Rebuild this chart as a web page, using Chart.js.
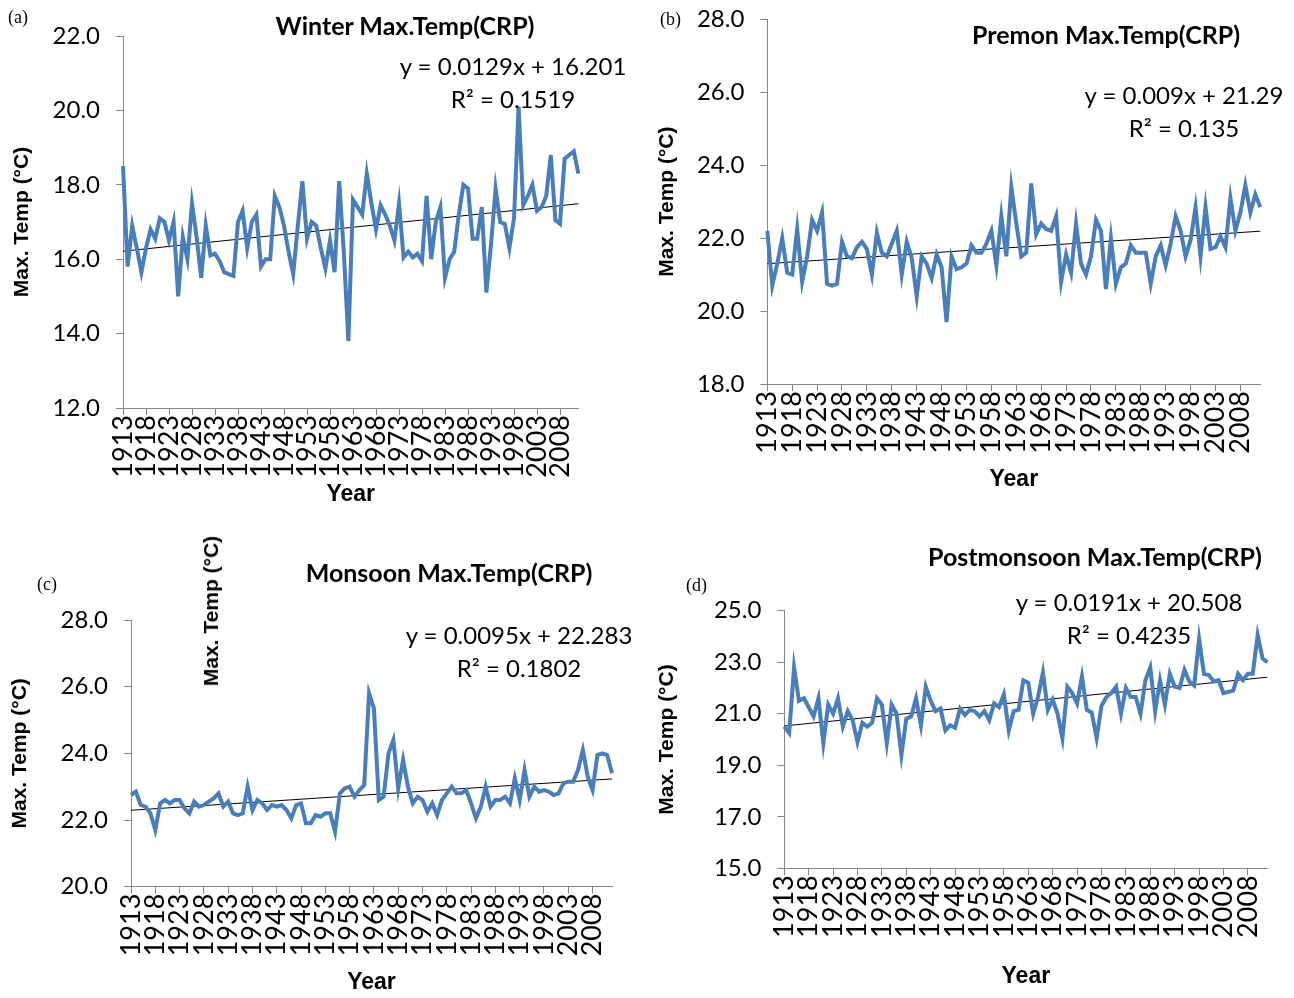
<!DOCTYPE html>
<html>
<head>
<meta charset="utf-8">
<title>Max. Temp (CRP)</title>
<script src="https://cdn.jsdelivr.net/npm/chart.js@4.4.1/dist/chart.umd.min.js"></script>
<style>
  html, body { margin: 0; padding: 0; background: #fff; }
  #page { position: relative; width: 1294px; height: 998px; overflow: hidden; font-family: Lato, sans-serif; }
  .panel { position: absolute; }
  .txt { position: absolute; white-space: nowrap; color: #000; transform: translate(-50%, -50%); }
  .letter { font-family: "Liberation Serif", serif; font-size: 18px; transform: none; }
  .title { font-weight: bold; font-size: 25px; }
  .eq { font-size: 24px; text-align: center; line-height: 33px; }
  .ytitle { font-family: "Liberation Sans", Arial, sans-serif; font-weight: bold; font-size: 21px; transform: translate(-50%, -50%) rotate(-90deg); }
</style>
</head>
<body>
<div id="page">
  <canvas class="panel" id="winter" width="645" height="515" style="left:0;top:0"></canvas>
  <canvas class="panel" id="premon" width="647" height="500" style="left:647px;top:0"></canvas>
  <canvas class="panel" id="monsoon" width="645" height="483" style="left:0;top:515px"></canvas>
  <canvas class="panel" id="postmon" width="647" height="483" style="left:647px;top:515px"></canvas>

  <div class="txt letter" style="left:8px;top:7px">(a)</div>
  <div class="txt letter" style="left:660px;top:9px">(b)</div>
  <div class="txt letter" style="left:37px;top:574px">(c)</div>
  <div class="txt letter" style="left:686px;top:575px">(d)</div>

  <div class="txt title" style="left:405px;top:25px">Winter Max.Temp(CRP)</div>
  <div class="txt title" style="left:1106px;top:34px">Premon Max.Temp(CRP)</div>
  <div class="txt title" style="left:449px;top:572px">Monsoon Max.Temp(CRP)</div>
  <div class="txt title" style="left:1095px;top:556px">Postmonsoon Max.Temp(CRP)</div>

  <div class="txt eq" style="left:513px;top:82px">y = 0.0129x + 16.201<br>R² = 0.1519</div>
  <div class="txt eq" style="left:1184px;top:111px">y = 0.009x + 21.29<br>R² = 0.135</div>
  <div class="txt eq" style="left:519px;top:651px">y = 0.0095x + 22.283<br>R² = 0.1802</div>
  <div class="txt eq" style="left:1129px;top:618px">y = 0.0191x + 20.508<br>R² = 0.4235</div>

  <div class="txt ytitle" style="left:211px;top:611px">Max. Temp (°C)</div>
</div>

<script>
// years on the category axis, one value per year
const years = Array.from({ length: 100 }, (_, i) => String(1913 + i));

// seasonal max temperature (°C)
const winterMax = [
  18.5, 15.8, 16.9, 16.3, 15.65, 16.3, 16.8, 16.55, 17.1, 17.0,
  16.5, 17.0, 15.0, 16.6, 16.0, 17.5, 16.6, 15.5, 16.9, 16.1,
  16.15, 15.95, 15.65, 15.6, 15.55, 17.0, 17.3, 16.3, 17.0, 17.2,
  15.8, 16.0, 16.0, 17.7, 17.4, 16.9, 16.2, 15.6, 16.9, 18.1,
  16.55, 17.0, 16.9, 16.3, 15.75, 16.5, 15.65, 18.1, 16.2, 13.8,
  17.6, 17.4, 17.2, 18.3, 17.5, 16.8, 17.45, 17.2, 16.9, 16.5,
  17.5, 16.05, 16.2, 16.05, 16.15, 15.95, 17.7, 16.0, 17.0, 17.4,
  15.5, 16.0, 16.2, 17.2, 18.0, 17.9, 16.55, 16.55, 17.4, 15.1,
  16.4, 17.9, 17.0, 16.95, 16.3, 17.1, 20.1, 17.45, 17.7, 18.0,
  17.3, 17.4, 17.7, 18.8, 17.05, 16.95, 18.7, 18.8, 18.9, 18.3
];
const premonMax = [
  22.2, 20.7, 21.3, 22.0, 21.05, 21.0, 22.25, 20.8, 21.5, 22.5,
  22.2, 22.7, 20.75, 20.7, 20.75, 21.9, 21.5, 21.45, 21.75, 21.9,
  21.7, 21.0, 22.15, 21.6, 21.5, 21.85, 22.2, 21.0, 21.9, 21.45,
  20.4, 21.5, 21.3, 20.9, 21.55, 21.2, 19.7, 21.5, 21.15, 21.2,
  21.3, 21.8, 21.6, 21.6, 21.85, 22.2, 21.25, 22.6, 21.5, 23.4,
  22.4, 21.5, 21.6, 23.5, 22.1, 22.4, 22.25, 22.2, 22.6, 20.8,
  21.55, 21.05, 22.4, 21.3, 21.0, 21.5, 22.5, 22.2, 20.6, 22.0,
  20.75, 21.2, 21.3, 21.8, 21.6, 21.6, 21.6, 20.75, 21.5, 21.8,
  21.25, 21.85, 22.6, 22.2, 21.5, 21.95, 22.85, 21.5, 22.85, 21.7,
  21.75, 22.05, 21.75, 23.1, 22.2, 22.7, 23.45, 22.7, 23.2, 22.85
];
const monsoonMax = [
  22.75, 22.85, 22.45, 22.4, 22.2, 21.7, 22.5, 22.6, 22.5, 22.6,
  22.6, 22.35, 22.2, 22.55, 22.4, 22.45, 22.55, 22.65, 22.8, 22.4,
  22.55, 22.2, 22.15, 22.2, 23.0, 22.3, 22.6, 22.5, 22.3, 22.45,
  22.4, 22.45, 22.3, 22.05, 22.45, 22.5, 21.9, 21.9, 22.15, 22.1,
  22.2, 22.2, 21.65, 22.8, 22.95, 23.0, 22.7, 22.9, 23.05, 25.8,
  25.35, 22.6, 22.7, 24.0, 24.4, 22.95, 23.8, 23.0, 22.5, 22.7,
  22.6, 22.25, 22.5, 22.15, 22.6, 22.8, 23.0, 22.8, 22.8, 22.9,
  22.5, 22.05, 22.4, 23.0, 22.4, 22.6, 22.6, 22.7, 22.5, 23.25,
  22.6, 23.5, 22.7, 23.0, 22.85, 22.9, 22.85, 22.75, 22.8, 23.1,
  23.15, 23.15, 23.5, 24.1, 23.3, 22.9, 23.95, 24.0, 23.95, 23.4
];
const postmonMax = [
  20.5, 20.25, 22.8, 21.5, 21.6, 21.25, 20.9, 21.6, 19.85, 21.35,
  21.0, 21.6, 20.5, 21.1, 20.75, 19.9, 20.65, 20.5, 20.65, 21.6,
  21.35, 19.85, 21.35, 21.0, 19.4, 20.8, 20.9, 21.6, 20.55, 22.05,
  21.5, 21.1, 21.2, 20.35, 20.55, 20.45, 21.2, 20.95, 21.15, 21.1,
  20.9, 21.1, 20.75, 21.4, 21.25, 21.75, 20.35, 21.1, 21.15, 22.3,
  22.2, 21.0, 21.65, 22.6, 21.15, 21.55, 21.0, 20.05, 22.05, 21.8,
  21.4, 22.45, 21.15, 21.05, 20.05, 21.3, 21.65, 21.8, 22.05, 21.0,
  22.0, 21.65, 21.65, 21.0, 22.3, 22.8, 21.1, 22.3, 21.35, 22.55,
  22.05, 22.0, 22.7, 22.25, 22.1, 23.9, 22.55, 22.5, 22.25, 22.3,
  21.8, 21.85, 21.9, 22.55, 22.3, 22.55, 22.55, 24.05, 23.15, 23.0
];

// linear trend printed on each panel: [slope, intercept], x = 1..100
const winterFit = [0.0129, 16.201];
const premonFit = [0.009, 21.29];
const monsoonFit = [0.0095, 22.283];
const postmonFit = [0.0191, 20.508];

// y axis [min, max, step]
const winterRange = [12, 22, 2];
const premonRange = [18, 28, 2];
const monsoonRange = [20, 28, 2];
const postmonRange = [15, 25, 2];

const AXIS = '#868686';
const BLUE = '#4a7ebb';
const BOLD_SANS = '"Liberation Sans", Arial, sans-serif';

function trendLine(fit) {
  const last = years.length - 1;
  return years.map((_, i) => (i === 0 || i === last) ? fit[0] * (i + 1) + fit[1] : null);
}

function makePanel(id, values, fit, range, box) {
  new Chart(document.getElementById(id), {
    type: 'line',
    data: {
      labels: years,
      datasets: [
        { data: values, borderColor: BLUE, borderWidth: 4, pointRadius: 0, tension: 0 },
        { data: trendLine(fit), borderColor: '#000', borderWidth: 1, pointRadius: 0, spanGaps: true }
      ]
    },
    options: {
      responsive: false,
      animation: false,
      layout: { padding: box.pad },
      plugins: { legend: { display: false }, tooltip: { enabled: false } },
      scales: {
        x: {
          offset: false,
          border: { color: AXIS, width: 1 },
          grid: { drawOnChartArea: false, tickLength: 7, color: AXIS },
          ticks: {
            autoSkip: false, minRotation: 90, maxRotation: 90, padding: 0,
            color: '#000', font: { size: 27 },
            callback: (v, i) => (i % 5 === 0 ? years[i] : null)
          },
          title: {
            display: true, text: 'Year', color: '#000', padding: 0,
            font: { family: BOLD_SANS, size: 23, weight: 'bold' }
          },
          afterFit: s => { s.height = box.xh; s.paddingLeft = 0; s.paddingRight = 0; }
        },
        y: {
          min: range[0], max: range[1],
          border: { color: AXIS, width: 1 },
          grid: { drawOnChartArea: false, tickLength: 7, color: AXIS },
          ticks: {
            stepSize: range[2], padding: 16, color: '#000', font: { size: 24 },
            callback: v => v.toFixed(1)
          },
          title: {
            display: true, text: 'Max. Temp (°C)', color: '#000', padding: 0,
            font: { family: BOLD_SANS, size: 21, weight: 'bold' }
          },
          afterFit: s => { s.width = box.yw; s.paddingTop = 0; s.paddingBottom = 0; }
        }
      }
    }
  });
}

Chart.defaults.font.family = 'Lato, sans-serif';

makePanel('winter', winterMax, winterFit, winterRange,
  { pad: { left: 9.5, top: 36, right: 66.6, bottom: 6.2 }, yw: 113.5, xh: 100.8 });
makePanel('premon', premonMax, premonFit, premonRange,
  { pad: { left: 7.5, top: 19.3, right: 33.7, bottom: 6.2 }, yw: 112.8, xh: 109.8 });
makePanel('monsoon', monsoonMax, monsoonFit, monsoonRange,
  { pad: { left: 7.5, top: 105, right: 33, bottom: 1.2 }, yw: 123.5, xh: 110.1 });
makePanel('postmon', postmonMax, postmonFit, postmonRange,
  { pad: { left: 7.5, top: 95.7, right: 26.6, bottom: 7.2 }, yw: 129.8, xh: 122.5 });
</script>
</body>
</html>
